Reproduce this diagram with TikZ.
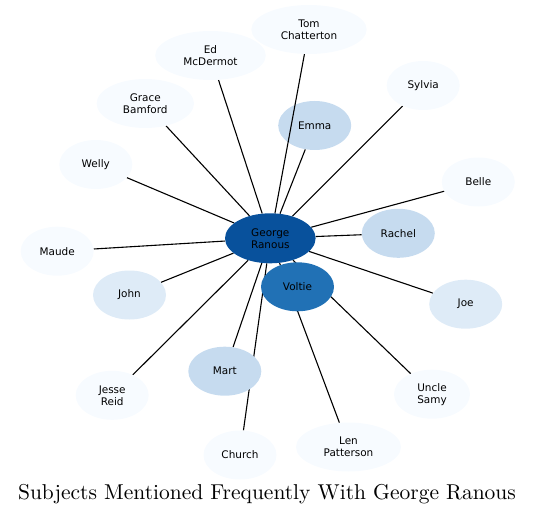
\documentclass[tikz,border=0pt]{standalone}
\usepackage{fontspec}
\newfontfamily\nodefont{DejaVu Sans}
\usetikzlibrary{shapes.geometric}
\pgfdeclarelayer{bg}
\pgfsetlayers{bg,main}
\definecolor{cdark}{HTML}{08519C}
\definecolor{cmid}{HTML}{2171B5}
\definecolor{clight}{HTML}{C6DBEF}
\definecolor{cpale}{HTML}{DEEBF7}
\definecolor{cwhite}{HTML}{F7FBFF}
\begin{document}
\begin{tikzpicture}[x=1bp,y=-1bp,
  person/.style={ellipse, inner sep=0pt, minimum width=73bp, minimum height=49bp,
    align=center, font=\nodefont\fontsize{10.5}{12}\selectfont, text=black, fill=cwhite},
  link/.style={line width=1.1bp, black}]
\useasboundingbox (0,0) rectangle (536,515);
\node[person, fill=cdark, minimum width=90.6bp, minimum height=50bp] (george) at (270.3,238.3) {George\\Ranous};
\node[person, fill=cmid] (voltie) at (297.5,286.8) {Voltie};
\node[person, fill=clight] (emma) at (314.7,125.5) {Emma};
\node[person, fill=clight] (rachel) at (398.3,233.3) {Rachel};
\node[person, fill=clight] (mart) at (224.8,371.2) {Mart};
\node[person, fill=cpale] (john) at (129.5,295) {John};
\node[person, fill=cpale] (joe) at (465.7,304.2) {Joe};
\node[person, minimum width=115.4bp] (tom) at (309,29.5) {Tom\\Chatterton};
\node[person, minimum width=110.6bp] (ed) at (210.5,55.5) {Ed\\McDermot};
\node[person, minimum width=97.4bp] (grace) at (145.3,103.5) {Grace\\Bamford};
\node[person] (welly) at (95.8,164.5) {Welly};
\node[person] (sylvia) at (423.2,85.5) {Sylvia};
\node[person] (belle) at (478.3,182) {Belle};
\node[person] (maude) at (57.2,251.2) {Maude};
\node[person] (jesse) at (112.2,395.3) {Jesse\\Reid};
\node[person] (church) at (240,455) {Church};
\node[person, minimum width=105bp] (len) at (348.5,447) {Len\\Patterson};
\node[person, minimum width=76bp] (uncle) at (432,394.2) {Uncle\\Samy};
\begin{pgfonlayer}{bg}
\foreach \n in {emma,rachel,mart,john,joe,ed,grace,welly,sylvia,belle,maude,jesse,church,len,uncle}
  \draw[link] (george) -- (\n);
\end{pgfonlayer}
\draw[link] (george) -- (tom);
\node[anchor=base, inner sep=0pt] (title) at (267,499.7) {\scalebox{2.157}{Subjects Mentioned Frequently With George Ranous}};
\end{tikzpicture}
\end{document}
